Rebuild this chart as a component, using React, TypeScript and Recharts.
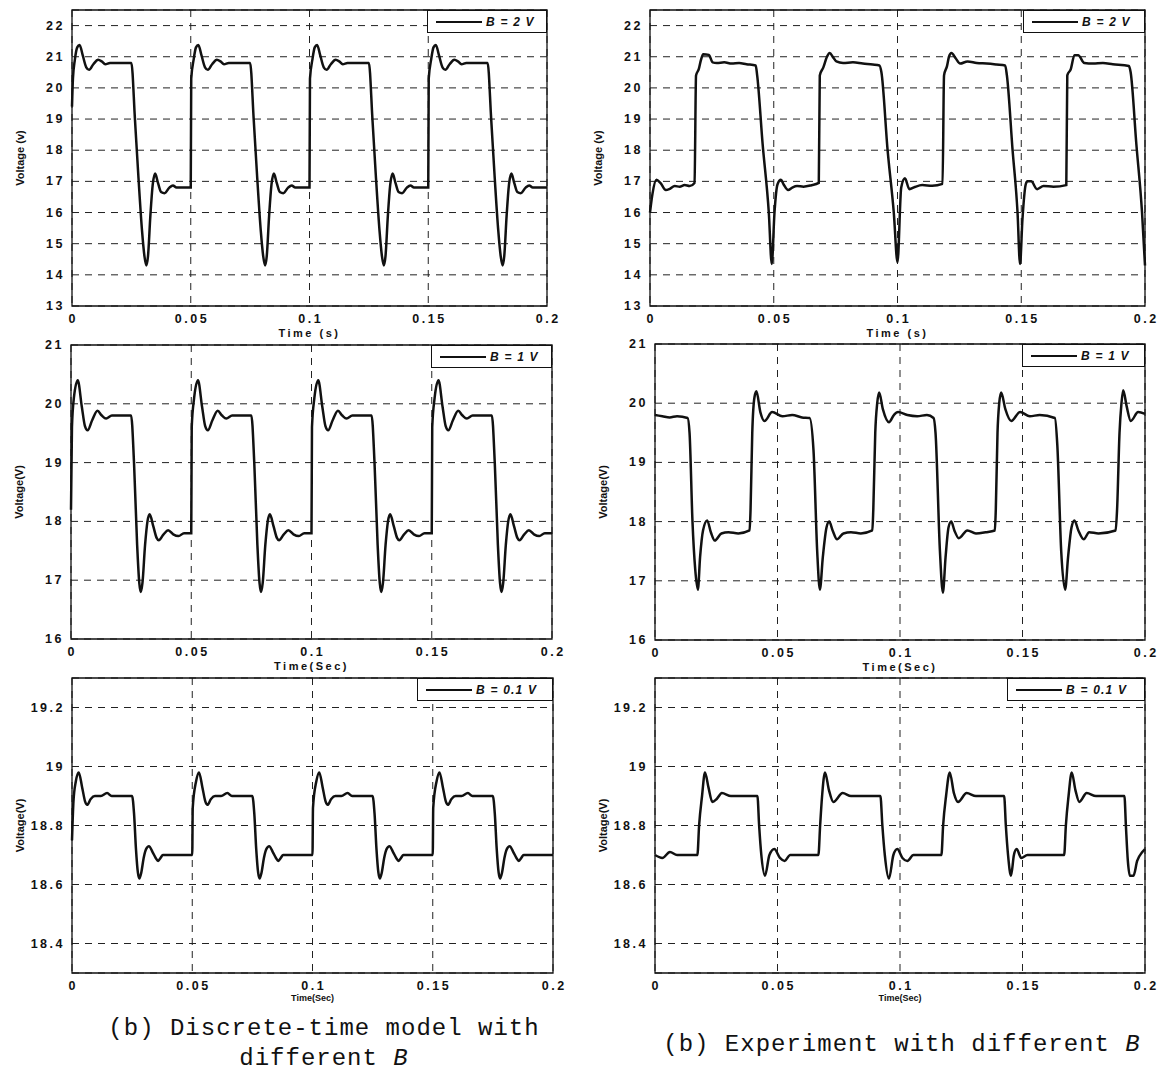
import React from "react";
import {
  LineChart,
  Line,
  XAxis,
  YAxis,
  CartesianGrid,
  ReferenceArea,
  Legend,
} from "recharts";

// time ticks shared by all six panels
const timeTicks = [0, 0.05, 0.1, 0.15, 0.2];

const ticksB2 = [13, 14, 15, 16, 17, 18, 19, 20, 21, 22];
const ticksB1 = [16, 17, 18, 19, 20, 21];
const ticksB01 = [18.4, 18.6, 18.8, 19, 19.2];

// [time, voltage]
const simB2: [number, number][] = [
  [0, 19.4], [0.0004, 20.3], [0.0012, 20.9], [0.0022, 21.3], [0.0032, 21.38], [0.0045, 21.05], [0.006, 20.66], [0.0072, 20.58], [0.009, 20.76], [0.011, 20.9], [0.0125, 20.85], [0.014, 20.76], [0.016, 20.8], [0.025, 20.8],
  [0.0265, 19.0], [0.028, 17.1], [0.0295, 15.4], [0.0305, 14.6], [0.0313, 14.3], [0.032, 14.6], [0.033, 15.9], [0.034, 16.9], [0.035, 17.25], [0.0362, 16.95], [0.0375, 16.66], [0.039, 16.62], [0.041, 16.8], [0.0425, 16.87], [0.044, 16.8], [0.05, 16.8],
  [0.0502, 20.3], [0.0512, 20.9], [0.0522, 21.3], [0.0532, 21.38], [0.0545, 21.05], [0.056, 20.66], [0.0572, 20.58], [0.059, 20.76], [0.061, 20.9], [0.0625, 20.85], [0.064, 20.76], [0.066, 20.8], [0.075, 20.8],
  [0.0765, 19.0], [0.078, 17.1], [0.0795, 15.4], [0.0805, 14.6], [0.0813, 14.3], [0.082, 14.6], [0.083, 15.9], [0.084, 16.9], [0.085, 17.25], [0.0862, 16.95], [0.0875, 16.66], [0.089, 16.62], [0.091, 16.8], [0.0925, 16.87], [0.094, 16.8], [0.1, 16.8],
  [0.1002, 20.3], [0.1012, 20.9], [0.1022, 21.3], [0.1032, 21.38], [0.1045, 21.05], [0.106, 20.66], [0.1072, 20.58], [0.109, 20.76], [0.111, 20.9], [0.1125, 20.85], [0.114, 20.76], [0.116, 20.8], [0.125, 20.8],
  [0.1265, 19.0], [0.128, 17.1], [0.1295, 15.4], [0.1305, 14.6], [0.1313, 14.3], [0.132, 14.6], [0.133, 15.9], [0.134, 16.9], [0.135, 17.25], [0.1362, 16.95], [0.1375, 16.66], [0.139, 16.62], [0.141, 16.8], [0.1425, 16.87], [0.144, 16.8], [0.15, 16.8],
  [0.1502, 20.3], [0.1512, 20.9], [0.1522, 21.3], [0.1532, 21.38], [0.1545, 21.05], [0.156, 20.66], [0.1572, 20.58], [0.159, 20.76], [0.161, 20.9], [0.1625, 20.85], [0.164, 20.76], [0.166, 20.8], [0.175, 20.8],
  [0.1765, 19.0], [0.178, 17.1], [0.1795, 15.4], [0.1805, 14.6], [0.1813, 14.3], [0.182, 14.6], [0.183, 15.9], [0.184, 16.9], [0.185, 17.25], [0.1862, 16.95], [0.1875, 16.66], [0.189, 16.62], [0.191, 16.8], [0.1925, 16.87], [0.194, 16.8], [0.2, 16.8],
];

const expB2: [number, number][] = [
  [0, 16.0], [0.001, 16.6], [0.0026, 17.05], [0.0042, 16.95], [0.0064, 16.72], [0.008, 16.76], [0.01, 16.85], [0.012, 16.83], [0.014, 16.88], [0.016, 16.85], [0.018, 16.95],
  [0.0186, 20.4], [0.0197, 20.6], [0.0206, 20.9], [0.0215, 21.08], [0.0238, 21.06], [0.0253, 20.82], [0.027, 20.8], [0.03, 20.82], [0.033, 20.78], [0.036, 20.8], [0.039, 20.76], [0.0427, 20.72],
  [0.0433, 20.4], [0.0455, 18.2], [0.048, 16.0], [0.0492, 14.35], [0.0503, 16.0], [0.0515, 16.9], [0.0529, 17.05], [0.054, 16.9], [0.0558, 16.72], [0.0575, 16.8], [0.0594, 16.85], [0.062, 16.83], [0.065, 16.87], [0.0682, 16.95],
  [0.0686, 20.4], [0.07, 20.65], [0.0715, 21.0], [0.0726, 21.12], [0.074, 20.98], [0.0753, 20.85], [0.078, 20.8], [0.082, 20.82], [0.086, 20.78], [0.09, 20.75], [0.0927, 20.72],
  [0.0935, 20.5], [0.096, 18.0], [0.0985, 16.0], [0.1, 14.4], [0.1015, 16.8], [0.103, 17.1], [0.1048, 16.75], [0.107, 16.82], [0.11, 16.88], [0.114, 16.86], [0.1182, 16.92],
  [0.1188, 20.4], [0.12, 20.7], [0.1208, 21.0], [0.1218, 21.12], [0.1235, 20.95], [0.1253, 20.78], [0.1283, 20.85], [0.132, 20.8], [0.136, 20.78], [0.14, 20.75], [0.1435, 20.72],
  [0.1442, 20.4], [0.1465, 18.0], [0.1485, 16.0], [0.1495, 14.35], [0.1505, 15.8], [0.1518, 16.9], [0.1525, 17.0], [0.154, 17.0], [0.1564, 16.75], [0.159, 16.85], [0.163, 16.83], [0.1682, 16.88],
  [0.1686, 20.4], [0.17, 20.6], [0.1715, 21.05], [0.173, 21.05], [0.1755, 20.8], [0.179, 20.78], [0.183, 20.8], [0.187, 20.76], [0.1935, 20.7],
  [0.1942, 20.5], [0.1965, 18.2], [0.1988, 16.0], [0.2, 14.3],
];

const simB1: [number, number][] = [
  [0, 18.2], [0.0004, 19.6], [0.0012, 20.1], [0.0028, 20.4], [0.0045, 19.95], [0.0058, 19.62], [0.0069, 19.55], [0.0088, 19.72], [0.011, 19.88], [0.0128, 19.8], [0.0146, 19.75], [0.017, 19.8], [0.025, 19.8],
  [0.0262, 19.0], [0.0275, 17.6], [0.0284, 16.95], [0.029, 16.8], [0.0297, 16.95], [0.0308, 17.6], [0.0318, 18.0], [0.0327, 18.12], [0.0342, 17.92], [0.0356, 17.72], [0.0365, 17.68], [0.0385, 17.78], [0.0404, 17.85], [0.0425, 17.78], [0.0447, 17.75], [0.047, 17.8], [0.05, 17.8],
  [0.0502, 19.6], [0.0512, 20.1], [0.0528, 20.4], [0.0545, 19.95], [0.0558, 19.62], [0.0569, 19.55], [0.0588, 19.72], [0.061, 19.88], [0.0628, 19.8], [0.0646, 19.75], [0.067, 19.8], [0.075, 19.8],
  [0.0762, 19.0], [0.0775, 17.6], [0.0784, 16.95], [0.079, 16.8], [0.0797, 16.95], [0.0808, 17.6], [0.0818, 18.0], [0.0827, 18.12], [0.0842, 17.92], [0.0856, 17.72], [0.0865, 17.68], [0.0885, 17.78], [0.0904, 17.85], [0.0925, 17.78], [0.0947, 17.75], [0.097, 17.8], [0.1, 17.8],
  [0.1002, 19.6], [0.1012, 20.1], [0.1028, 20.4], [0.1045, 19.95], [0.1058, 19.62], [0.1069, 19.55], [0.1088, 19.72], [0.111, 19.88], [0.1128, 19.8], [0.1146, 19.75], [0.117, 19.8], [0.125, 19.8],
  [0.1262, 19.0], [0.1275, 17.6], [0.1284, 16.95], [0.129, 16.8], [0.1297, 16.95], [0.1308, 17.6], [0.1318, 18.0], [0.1327, 18.12], [0.1342, 17.92], [0.1356, 17.72], [0.1365, 17.68], [0.1385, 17.78], [0.1404, 17.85], [0.1425, 17.78], [0.1447, 17.75], [0.147, 17.8], [0.15, 17.8],
  [0.1502, 19.6], [0.1512, 20.1], [0.1528, 20.4], [0.1545, 19.95], [0.1558, 19.62], [0.1569, 19.55], [0.1588, 19.72], [0.161, 19.88], [0.1628, 19.8], [0.1646, 19.75], [0.167, 19.8], [0.175, 19.8],
  [0.1762, 19.0], [0.1775, 17.6], [0.1784, 16.95], [0.179, 16.8], [0.1797, 16.95], [0.1808, 17.6], [0.1818, 18.0], [0.1827, 18.12], [0.1842, 17.92], [0.1856, 17.72], [0.1865, 17.68], [0.1885, 17.78], [0.1904, 17.85], [0.1925, 17.78], [0.1947, 17.75], [0.197, 17.8], [0.2, 17.8],
];

const expB1: [number, number][] = [
  [0, 19.8], [0.003, 19.78], [0.006, 19.76], [0.009, 19.78], [0.0133, 19.75], [0.0141, 19.5], [0.0153, 18.0], [0.0164, 17.2], [0.0175, 16.85], [0.0184, 17.4], [0.0196, 17.85], [0.0213, 18.02], [0.0228, 17.82], [0.0244, 17.68], [0.0271, 17.8], [0.03, 17.82], [0.034, 17.8], [0.0386, 17.85],
  [0.039, 18.2], [0.0397, 19.5], [0.0406, 20.1], [0.0414, 20.2], [0.043, 19.85], [0.0447, 19.7], [0.0478, 19.85], [0.052, 19.78], [0.056, 19.8], [0.06, 19.76], [0.0631, 19.75],
  [0.0647, 19.2], [0.0662, 17.5], [0.0673, 16.85], [0.0685, 17.4], [0.07, 17.9], [0.0711, 18.0], [0.0725, 17.85], [0.0743, 17.7], [0.0769, 17.8], [0.08, 17.82], [0.084, 17.8], [0.0887, 17.85],
  [0.0891, 18.2], [0.0899, 19.5], [0.0907, 20.0], [0.0915, 20.18], [0.093, 19.9], [0.0955, 19.68], [0.0975, 19.8], [0.0992, 19.85], [0.103, 19.8], [0.107, 19.78], [0.111, 19.8], [0.1137, 19.75],
  [0.1145, 19.5], [0.1163, 17.5], [0.1175, 16.8], [0.1186, 17.4], [0.1198, 17.9], [0.1209, 18.0], [0.1222, 17.85], [0.124, 17.72], [0.1275, 17.85], [0.131, 17.8], [0.135, 17.82], [0.1387, 17.85],
  [0.1391, 18.2], [0.1398, 19.5], [0.1405, 20.0], [0.1413, 20.18], [0.143, 19.9], [0.1454, 19.7], [0.149, 19.85], [0.153, 19.78], [0.157, 19.8], [0.1632, 19.75],
  [0.1642, 19.3], [0.1658, 17.5], [0.1674, 16.85], [0.1686, 17.4], [0.17, 17.9], [0.1712, 18.02], [0.1728, 17.85], [0.175, 17.7], [0.1772, 17.82], [0.181, 17.8], [0.188, 17.85],
  [0.1886, 18.2], [0.1896, 19.5], [0.1904, 20.0], [0.1911, 20.22], [0.1925, 19.95], [0.1942, 19.7], [0.1972, 19.85], [0.2, 19.82],
];

const simB01: [number, number][] = [
  [0, 18.75], [0.0006, 18.88], [0.0016, 18.95], [0.0028, 18.98], [0.0042, 18.93], [0.0055, 18.88], [0.0063, 18.87], [0.0078, 18.89], [0.0095, 18.9], [0.012, 18.9], [0.0146, 18.91], [0.0165, 18.9], [0.025, 18.9],
  [0.0258, 18.84], [0.0266, 18.72], [0.0274, 18.64], [0.028, 18.62], [0.0288, 18.64], [0.0298, 18.69], [0.0308, 18.72], [0.032, 18.73], [0.0335, 18.71], [0.0348, 18.69], [0.0358, 18.68], [0.0368, 18.69], [0.0378, 18.7], [0.05, 18.7],
  [0.0502, 18.86], [0.0516, 18.95], [0.0528, 18.98], [0.0542, 18.93], [0.0555, 18.88], [0.0563, 18.87], [0.0578, 18.89], [0.0595, 18.9], [0.062, 18.9], [0.0646, 18.91], [0.0665, 18.9], [0.075, 18.9],
  [0.0758, 18.84], [0.0766, 18.72], [0.0774, 18.64], [0.078, 18.62], [0.0788, 18.64], [0.0798, 18.69], [0.0808, 18.72], [0.082, 18.73], [0.0835, 18.71], [0.0848, 18.69], [0.0858, 18.68], [0.0868, 18.69], [0.0878, 18.7], [0.1, 18.7],
  [0.1002, 18.86], [0.1016, 18.95], [0.1028, 18.98], [0.1042, 18.93], [0.1055, 18.88], [0.1063, 18.87], [0.1078, 18.89], [0.1095, 18.9], [0.112, 18.9], [0.1146, 18.91], [0.1165, 18.9], [0.125, 18.9],
  [0.1258, 18.84], [0.1266, 18.72], [0.1274, 18.64], [0.128, 18.62], [0.1288, 18.64], [0.1298, 18.69], [0.1308, 18.72], [0.132, 18.73], [0.1335, 18.71], [0.1348, 18.69], [0.1358, 18.68], [0.1368, 18.69], [0.1378, 18.7], [0.15, 18.7],
  [0.1502, 18.86], [0.1516, 18.95], [0.1528, 18.98], [0.1542, 18.93], [0.1555, 18.88], [0.1563, 18.87], [0.1578, 18.89], [0.1595, 18.9], [0.162, 18.9], [0.1646, 18.91], [0.1665, 18.9], [0.175, 18.9],
  [0.1758, 18.84], [0.1766, 18.72], [0.1774, 18.64], [0.178, 18.62], [0.1788, 18.64], [0.1798, 18.69], [0.1808, 18.72], [0.182, 18.73], [0.1835, 18.71], [0.1848, 18.69], [0.1858, 18.68], [0.1868, 18.69], [0.1878, 18.7], [0.2, 18.7],
];

const expB01: [number, number][] = [
  [0, 18.7], [0.003, 18.69], [0.0061, 18.71], [0.009, 18.7], [0.013, 18.7], [0.0173, 18.7], [0.018, 18.8], [0.0192, 18.9], [0.0204, 18.98], [0.0218, 18.93], [0.0234, 18.88], [0.0252, 18.89], [0.0273, 18.91], [0.031, 18.9], [0.035, 18.9], [0.039, 18.9], [0.0418, 18.9],
  [0.0425, 18.8], [0.0434, 18.7], [0.0449, 18.63], [0.0467, 18.7], [0.0487, 18.72], [0.051, 18.69], [0.0529, 18.68], [0.0552, 18.7], [0.06, 18.7], [0.0667, 18.7],
  [0.0674, 18.8], [0.0682, 18.9], [0.0694, 18.98], [0.071, 18.92], [0.0728, 18.88], [0.0766, 18.91], [0.08, 18.9], [0.086, 18.9], [0.092, 18.9],
  [0.0928, 18.8], [0.0938, 18.7], [0.0955, 18.62], [0.0973, 18.7], [0.0989, 18.72], [0.101, 18.69], [0.103, 18.68], [0.1055, 18.7], [0.11, 18.7], [0.1169, 18.7],
  [0.1176, 18.8], [0.1188, 18.9], [0.1203, 18.98], [0.122, 18.91], [0.1237, 18.88], [0.1272, 18.91], [0.131, 18.9], [0.137, 18.9], [0.1425, 18.9],
  [0.1432, 18.8], [0.1441, 18.7], [0.1453, 18.63], [0.1465, 18.7], [0.1476, 18.72], [0.1495, 18.69], [0.152, 18.7], [0.158, 18.7], [0.167, 18.7],
  [0.1677, 18.8], [0.1688, 18.9], [0.1701, 18.98], [0.1716, 18.92], [0.1732, 18.88], [0.1762, 18.91], [0.18, 18.9], [0.186, 18.9], [0.1916, 18.9],
  [0.1922, 18.8], [0.193, 18.68], [0.1938, 18.63], [0.1953, 18.63], [0.1968, 18.68], [0.1989, 18.71], [0.2, 18.72],
];

const FONT = '"Liberation Sans", Arial, sans-serif';
const INK = "#111";

const tickStyle = { fontFamily: FONT, fontSize: 12.5, fontWeight: "bold" as const, letterSpacing: 2.5, fill: INK };

function XTick({ x, y, payload }: any) {
  return (
    <text x={x + 1.2} y={y + 9} textAnchor="middle" style={tickStyle}>
      {String(payload.value)}
    </text>
  );
}

function YTick({ x, y, payload }: any) {
  return (
    <text x={x + 1} y={y + 4} textAnchor="end" style={tickStyle}>
      {String(payload.value)}
    </text>
  );
}

function YLabel({ viewBox, text }: any) {
  const cx = viewBox.x + 18;
  const cy = viewBox.y + viewBox.height / 2;
  return (
    <text
      x={cx}
      y={cy}
      transform={`rotate(-90 ${cx} ${cy})`}
      textAnchor="middle"
      dominantBaseline="central"
      style={{ fontFamily: FONT, fontSize: 11, fontWeight: "bold", fill: INK }}
    >
      {text}
    </text>
  );
}

function XLabel({ viewBox, text, dy, small }: any) {
  return (
    <text
      x={viewBox.x + viewBox.width / 2}
      y={viewBox.y + dy}
      textAnchor="middle"
      style={{
        fontFamily: FONT,
        fontSize: small ? 9 : 11,
        fontWeight: "bold",
        letterSpacing: small ? 0 : 2.5,
        fill: INK,
      }}
    >
      {text}
    </text>
  );
}

type PanelProps = {
  left: number;
  top: number;
  w: number;
  h: number;
  points: [number, number][];
  domain: [number, number];
  ticks: number[];
  yLabel: string;
  xLabel: string;
  xLabelDy: number;
  smallX?: boolean;
  legendValue: string;
  legendW: number;
};

function Panel(p: PanelProps) {
  const data = p.points.map(([t, v]) => ({ t, v }));
  const ML = 70;
  const MR = 15;
  const MT = 10;
  const width = ML + p.w + MR;
  const height = MT + p.h + 40;

  return (
    <div style={{ position: "absolute", left: p.left - ML, top: p.top - MT }}>
      <LineChart width={width} height={height} data={data} margin={{ top: MT, right: MR, bottom: 0, left: 0 }}>
        <CartesianGrid stroke="#222" strokeDasharray="7 6" strokeWidth={1} />
        <XAxis
          dataKey="t"
          type="number"
          domain={[0, 0.2]}
          ticks={timeTicks}
          height={40}
          axisLine={false}
          tickLine={false}
          tick={<XTick />}
          label={<XLabel text={p.xLabel} dy={p.xLabelDy} small={p.smallX} />}
        />
        <YAxis
          type="number"
          domain={p.domain}
          ticks={p.ticks}
          width={ML}
          axisLine={false}
          tickLine={false}
          tick={<YTick />}
          allowDataOverflow
          label={<YLabel text={p.yLabel} />}
        />
        <Line
          type="monotone"
          dataKey="v"
          stroke={INK}
          strokeWidth={2.5}
          dot={false}
          isAnimationActive={false}
        />
        <ReferenceArea x1={0} x2={0.2} y1={p.domain[0]} y2={p.domain[1]} fill="none" stroke={INK} strokeWidth={1.3} />
        <Legend
          layout="vertical"
          align="center"
          verticalAlign="middle"
          wrapperStyle={{ left: ML + p.w - p.legendW, top: MT, width: p.legendW, height: 23 }}
          content={() => (
            <div
              style={{
                boxSizing: "border-box",
                width: p.legendW,
                height: 23,
                border: `1px solid ${INK}`,
                background: "#fff",
                display: "flex",
                alignItems: "center",
                fontFamily: FONT,
                fontSize: 12,
                fontStyle: "italic",
                fontWeight: "bold",
                letterSpacing: 1.2,
                color: INK,
              }}
            >
              <span style={{ display: "inline-block", width: 46, height: 2, background: INK, marginLeft: 8, marginRight: 4 }} />
              <span style={{ whiteSpace: "pre" }}>B = {p.legendValue}</span>
            </div>
          )}
        />
      </LineChart>
    </div>
  );
}

const capStyle: React.CSSProperties = {
  position: "absolute",
  fontFamily: '"Liberation Mono", monospace',
  fontSize: 24,
  letterSpacing: 1,
  color: INK,
  whiteSpace: "pre",
  textAlign: "center",
  lineHeight: "30px",
};

export default function App() {
  return (
    <div style={{ position: "absolute", left: 0, top: 0, width: 1165, height: 1082, background: "#fff" }}>
      <Panel left={72} top={10} w={475} h={296} points={simB2} domain={[13, 22.5]} ticks={ticksB2}
        yLabel="Voltage (v)" xLabel="Time (s)" xLabelDy={31} legendValue="2 V" legendW={120} />
      <Panel left={650} top={10} w={495} h={296} points={expB2} domain={[13, 22.5]} ticks={ticksB2}
        yLabel="Voltage (v)" xLabel="Time (s)" xLabelDy={31} legendValue="2 V" legendW={122} />
      <Panel left={71} top={345} w={481} h={294} points={simB1} domain={[16, 21]} ticks={ticksB1}
        yLabel="Voltage(V)" xLabel="Time(Sec)" xLabelDy={31} legendValue="1 V" legendW={121} />
      <Panel left={655} top={344} w={490} h={296} points={expB1} domain={[16, 21]} ticks={ticksB1}
        yLabel="Voltage(V)" xLabel="Time(Sec)" xLabelDy={31} legendValue="1 V" legendW={123} />
      <Panel left={72} top={678} w={481} h={295} points={simB01} domain={[18.3, 19.3]} ticks={ticksB01}
        yLabel="Voltage(V)" xLabel="Time(Sec)" xLabelDy={28} smallX legendValue="0.1 V" legendW={136} />
      <Panel left={655} top={678} w={490} h={295} points={expB01} domain={[18.3, 19.3]} ticks={ticksB01}
        yLabel="Voltage(V)" xLabel="Time(Sec)" xLabelDy={28} smallX legendValue="0.1 V" legendW={138} />

      <div style={{ ...capStyle, left: 104, top: 1014, width: 440 }}>
        (b) Discrete-time model with{"\n"}different <i>B</i>
      </div>
      <div style={{ ...capStyle, left: 652, top: 1030, width: 500 }}>
        (b) Experiment with different <i>B</i>
      </div>
    </div>
  );
}
